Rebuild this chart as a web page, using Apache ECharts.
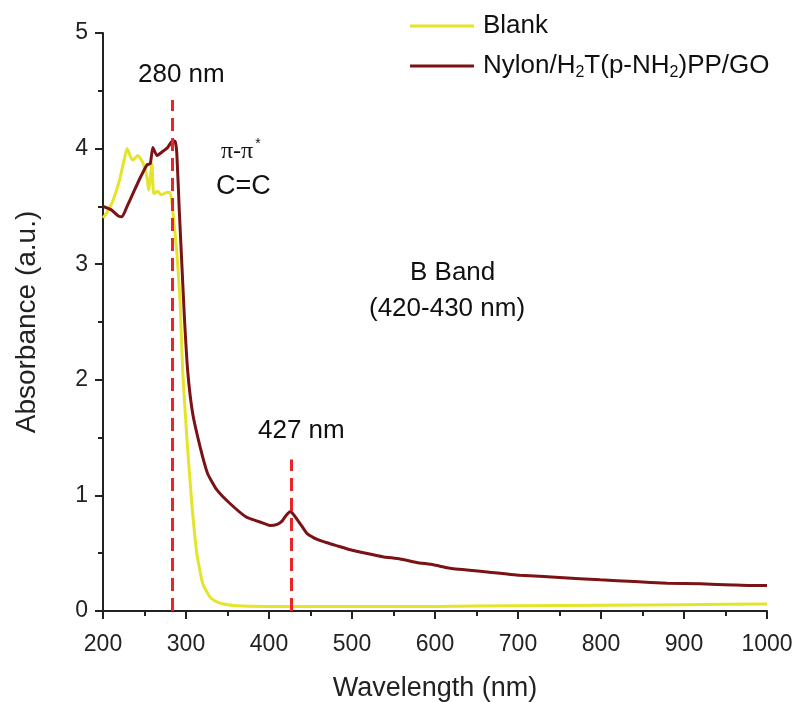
<!DOCTYPE html>
<html><head><meta charset="utf-8">
<script src="https://cdn.jsdelivr.net/npm/echarts@6/dist/echarts.min.js"></script>
<style>html,body{margin:0;padding:0;background:#fff}#c{width:795px;height:702px}</style>
</head><body><div id="c"></div>
<script>
// ---- data ----
const xTicks = [200,300,400,500,600,700,800,900,1000];
const yTicks = [0,1,2,3,4,5];
const nylonWl  = [200,210,218,223,229,236,245,253,257,260,265,271,278,284,287,289,292,295,298,302,308,317,326,337,353,373,385,393,401,410,416,421,426,430,434,440,446,458,470,484,498,517,537,558,578,598,618,660,702,750,799,840,880,920,959,980,1000];
const nylonAbs = [3.50,3.47,3.42,3.41,3.50,3.61,3.75,3.86,3.87,4.01,3.94,3.97,4.01,4.07,4.06,3.95,3.45,3.00,2.55,2.08,1.71,1.42,1.19,1.05,0.93,0.81,0.78,0.76,0.74,0.75,0.78,0.83,0.86,0.83,0.79,0.73,0.67,0.62,0.59,0.56,0.53,0.50,0.47,0.45,0.42,0.40,0.37,0.34,0.31,0.29,0.27,0.255,0.24,0.235,0.225,0.22,0.22];
const blankWl  = [200,205,212,220,226,229,233,236,242,248,253,255,259,261,266,270,277,281,284,289,293,296,301,307,313,320,329,337,345,361,400,500,600,700,800,900,1000];
const blankAbs = [3.40,3.45,3.55,3.73,3.92,4.00,3.93,3.90,3.94,3.88,3.75,3.64,3.87,3.61,3.63,3.60,3.62,3.62,3.47,3.10,2.66,2.08,1.50,0.93,0.50,0.24,0.12,0.08,0.06,0.045,0.04,0.04,0.04,0.045,0.05,0.055,0.06];
const peak1 = [283, 4.42];   // 280 nm marker (x, top)
const peak2 = [427, 1.31];   // 427 nm marker (x, top)
const seriesNames = ['Blank','Nylon/H2T(p-NH2)PP/GO'];

const zip = (a,b)=>a.map((v,i)=>[v,b[i]]);
const font = 'Liberation Sans, Arial, sans-serif';
const chart = echarts.init(document.getElementById('c'), null, {renderer:'canvas'});
const dashStyle = {color:'#e8262a', width:3, type:[13,7]};
chart.setOption({
  animation:false,
  backgroundColor:'#fff',
  grid:{left:103, right:28, top:33, bottom:91, containLabel:false, outerBoundsMode:'none'},
  legend:{
    orient:'vertical', left:405, top:8, itemWidth:64, itemHeight:3, itemGap:12,
    icon:'rect',
    formatter: n => n===seriesNames[1] ? '{n|Nylon/H}{s|2}{n|T(p-NH}{s|2}{n|)PP/GO}' : '{n|'+n+'}',
    textStyle:{fontFamily:font, color:'#111', padding:[0,0,0,4],
      rich:{n:{fontSize:26, fontFamily:font, color:'#111', lineHeight:30},
            s:{fontSize:16, fontFamily:font, color:'#111', lineHeight:30, padding:[14,0,0,0]}}}
  },
  xAxis:{type:'value', min:200, max:1000, interval:100,
    axisLine:{show:true, lineStyle:{color:'#222', width:2}},
    axisTick:{show:true, length:8, lineStyle:{color:'#222', width:2}},
    minorTick:{show:true, splitNumber:2, length:5, lineStyle:{color:'#222', width:2}},
    splitLine:{show:false},
    axisLabel:{fontFamily:font, fontSize:23, color:'#222', margin:22, formatter: v => String(v)},
    name:'Wavelength (nm)', nameLocation:'middle', nameGap:64,
    nameTextStyle:{fontFamily:font, fontSize:27, color:'#222'}
  },
  yAxis:{type:'value', min:0, max:5, interval:1,
    axisLine:{show:true, lineStyle:{color:'#222', width:2}},
    axisTick:{show:true, length:8, lineStyle:{color:'#222', width:2}},
    minorTick:{show:true, splitNumber:2, length:5, lineStyle:{color:'#222', width:2}},
    splitLine:{show:false},
    axisLabel:{fontFamily:font, fontSize:23, color:'#222', margin:15},
    name:'Absorbance (a.u.)', nameLocation:'middle', nameGap:62,
    nameTextStyle:{fontFamily:font, fontSize:28, color:'#222'}
  },
  series:[
    {name:seriesNames[0], type:'line', showSymbol:false, symbol:'none', data:zip(blankWl,blankAbs),
     smooth:0.15, lineStyle:{color:'#e4e42a', width:3}, itemStyle:{color:'#e4e42a'}, z:2},
    {name:seriesNames[1], type:'line', showSymbol:false, symbol:'none', data:zip(nylonWl,nylonAbs),
     smooth:0.15, lineStyle:{color:'#7a1216', width:3}, itemStyle:{color:'#7a1216'}, z:3,
     markLine:{silent:true, symbol:'none', label:{show:false}, lineStyle:dashStyle,
       data:[[{coord:[peak1[0],0]},{coord:[peak1[0],peak1[1]]}],
             [{coord:[peak2[0],0]},{coord:[peak2[0],peak2[1]]}]]}}
  ],
  graphic:[
    {type:'text', left:138, top:62, style:{text:'280 nm', font:'26px '+font, fill:'#111'}},
    {type:'text', left:258, top:418, style:{text:'427 nm', font:'26px '+font, fill:'#111'}},
    {type:'text', left:221, top:137, style:{text:'{a|π-π}{b|*}', font:'24px Liberation Serif', fill:'#111',
       rich:{a:{fontSize:24, fontFamily:'Liberation Serif', fill:'#111'}, b:{fontSize:14, fontFamily:font, fill:'#111', padding:[0,0,16,2]}}}},
    {type:'text', left:216, top:173, style:{text:'C=C', font:'27px '+font, fill:'#111'}},
    {type:'text', left:410, top:260, style:{text:'B Band', font:'26px '+font, fill:'#111'}},
    {type:'text', left:369, top:296, style:{text:'(420-430 nm)', font:'26px '+font, fill:'#111'}}
  ]
});
</script></body></html>
